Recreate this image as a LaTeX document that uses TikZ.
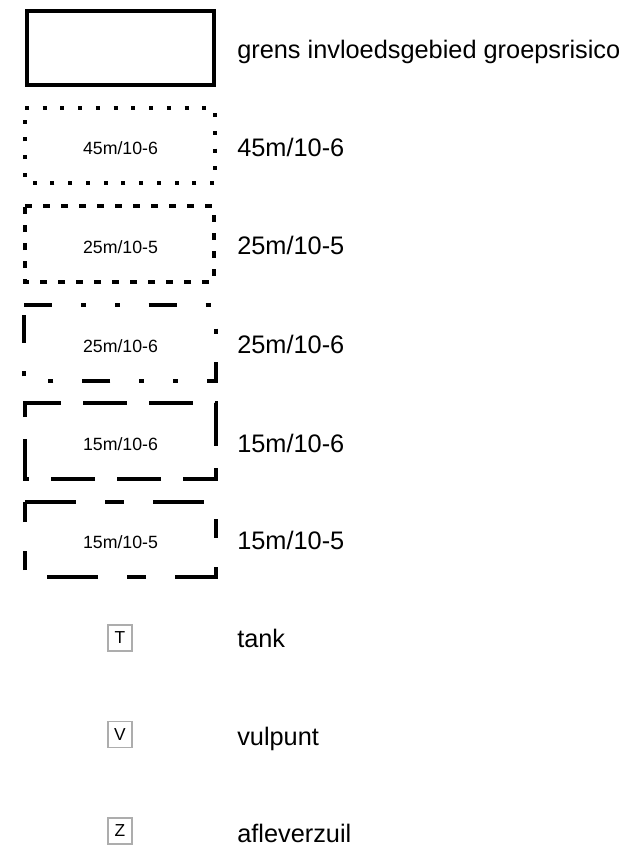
\documentclass[tikz,border=0pt]{standalone}
\usepackage{fontspec}
\setmainfont{Liberation Sans}
\begin{document}
\begin{tikzpicture}[x=0.75pt,y=-0.75pt,
  frame/.style={line width=3pt, line cap=butt, line join=miter},
  biglabel/.style={anchor=base west, inner sep=0pt, font=\fontsize{19}{22}\selectfont},
  inlabel/.style={anchor=base, inner sep=0pt, font=\fontsize{13.3}{16}\selectfont},
  symbox/.style={draw=black!32, line width=0.8pt, minimum width=18pt, minimum height=19.5pt, inner sep=0pt, font=\fontsize{13}{15}\selectfont}]
\useasboundingbox (0,0) rectangle (636,854);

% 1 solid
\draw[frame] (27,11) rectangle (214,85);
\node[biglabel] (l1) at (237,58) {grens invloedsgebied groepsrisico};

% 2 dotted 45m/10-6
\draw[frame, dash pattern=on 3pt off 10.3pt] (25,108) -- (215,108) -- (215,183) -- (25,183) -- cycle;
\node[inlabel] (i2) at (120.5,154) {45m/10-6};
\node[biglabel] (l2) at (237,156) {45m/10-6};

% 3 short dashes 25m/10-5
\draw[frame, dash pattern=on 5.25pt off 8.25pt] (25,206) -- (214,206) -- (214,282) -- (25,282) -- cycle;
\node[inlabel] (i3) at (120.5,253) {25m/10-5};
\node[biglabel] (l3) at (237,254) {25m/10-5};

% 4 dash dot dot 25m/10-6
\draw[frame, dash pattern=on 21pt off 21.75pt on 3.75pt off 21.75pt on 3.75pt off 21.4pt] (24,305) -- (216,305) -- (216,381) -- (24,381) -- cycle;
\node[inlabel] (i4) at (120.5,352) {25m/10-6};
\node[biglabel] (l4) at (237,353) {25m/10-6};

% 5 long dashes 15m/10-6
\draw[frame, dash pattern=on 33pt off 16.5pt] (25,411) -- (25,403) -- (216,403) -- (216,479) -- (25,479) -- cycle;
\node[inlabel] (i5) at (120.5,450) {15m/10-6};
\node[biglabel] (l5) at (237,452) {15m/10-6};

% 6 long-short dashes 15m/10-5
\draw[frame, dash pattern=on 38.25pt off 21.75pt on 14.25pt off 21.75pt] (25,502) -- (216,502) -- (216,577) -- (25,577) -- cycle;
\node[inlabel] (i6) at (120.5,548) {15m/10-5};
\node[biglabel] (l6) at (237,549) {15m/10-5};

% symbols
\node[symbox] (t) at (120,638) {T};
\node[biglabel] (lt) at (237,647) {tank};
\node[symbox] (v) at (120,734.5) {V};
\node[biglabel] (lv) at (237,745) {vulpunt};
\node[symbox] (z) at (120,831) {Z};
\node[biglabel] (lz) at (237,842) {afleverzuil};
\end{tikzpicture}
\end{document}
